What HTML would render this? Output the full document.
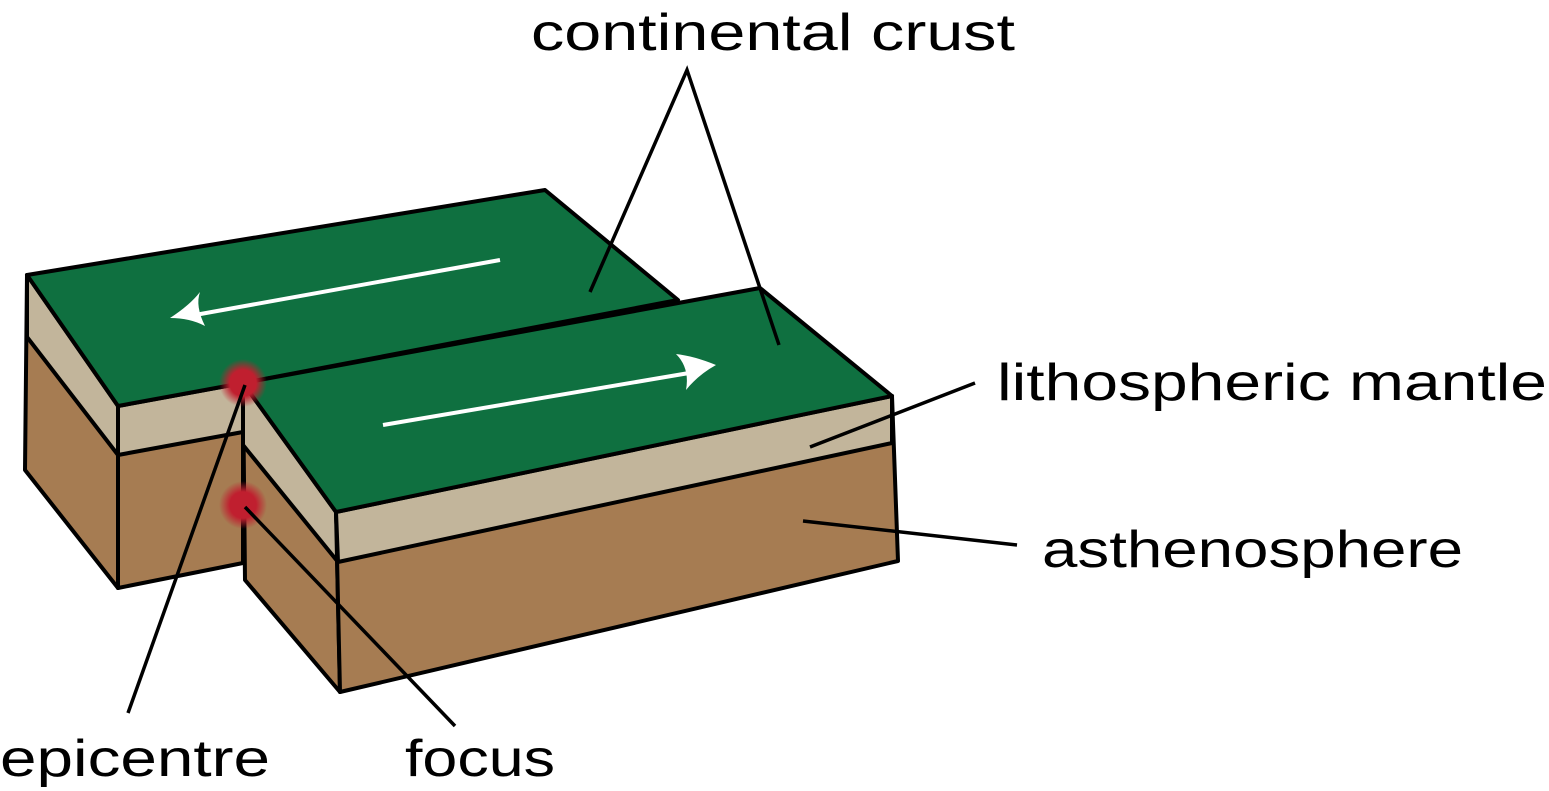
<!DOCTYPE html>
<html><head><style>html,body{margin:0;padding:0;background:#fff;}svg{display:block}</style></head>
<body>
<svg width="1549" height="791" viewBox="0 0 1549 791" xmlns="http://www.w3.org/2000/svg">
<defs>
<radialGradient id="dot"><stop offset="0.55" stop-color="#c01f2f"/><stop offset="1" stop-color="#c01f2f" stop-opacity="0"/></radialGradient>
</defs>
<g stroke="#000" stroke-width="4" stroke-linejoin="round">
<!-- left block -->
<polygon points="27,275 118,406 118,588 25,470" fill="#a67c52"/>
<polygon points="27,275 118,406 118,455 27,337" fill="#c2b59b"/>
<polygon points="118,406 243,383 243,563 118,588" fill="#a67c52"/>
<polygon points="118,406 243,383 243,432 118,455" fill="#c2b59b"/>
<polygon points="27,275 545,190 678,300 243,383 118,406" fill="#0f7040"/>
<!-- right block -->
<polygon points="243,383 336,512 340,692 245,580" fill="#a67c52"/>
<polygon points="243,383 336,512 338,562 243,445" fill="#c2b59b"/>
<polygon points="336,512 892,396 898,561 340,692" fill="#a67c52"/>
<polygon points="336,512 892,396 892,443 338,562" fill="#c2b59b"/>
<polygon points="243,383 760,288 892,396 336,512" fill="#0f7040"/>
</g>
<!-- arrows -->
<g stroke="#fff" stroke-width="4" fill="#fff">
<line x1="500" y1="260" x2="195" y2="315"/>
<line x1="383" y1="425" x2="695" y2="372"/>
</g>
<path d="M170,318 Q190,305 200,292 Q195,306 205,326 Q190,318 170,318Z" fill="#fff"/>
<path d="M716,365 Q694,356 676,354 Q690,368 686,390 Q698,375 716,365Z" fill="#fff"/>
<!-- dots -->
<circle cx="243" cy="383" r="24" fill="url(#dot)"/>
<circle cx="243" cy="505" r="24" fill="url(#dot)"/>
<!-- label lines -->
<g stroke="#000" stroke-width="3.5" fill="none">
<polyline points="590,292 687,70 779,345"/>
<line x1="975" y1="383" x2="810" y2="447"/>
<line x1="1017" y1="545" x2="803" y2="521"/>
<line x1="245" y1="385" x2="128" y2="713"/>
<line x1="245" y1="507" x2="455" y2="726"/>
</g>
<g font-family="Liberation Sans, sans-serif" font-size="52" fill="#000">
<text x="531" y="50" textLength="484" lengthAdjust="spacingAndGlyphs">continental crust</text>
<text x="997" y="400" textLength="550" lengthAdjust="spacingAndGlyphs">lithospheric mantle</text>
<text x="1042" y="567" textLength="421" lengthAdjust="spacingAndGlyphs">asthenosphere</text>
<text x="0" y="776" textLength="270" lengthAdjust="spacingAndGlyphs">epicentre</text>
<text x="405" y="776" textLength="150" lengthAdjust="spacingAndGlyphs">focus</text>
</g>
</svg>
</body></html>
